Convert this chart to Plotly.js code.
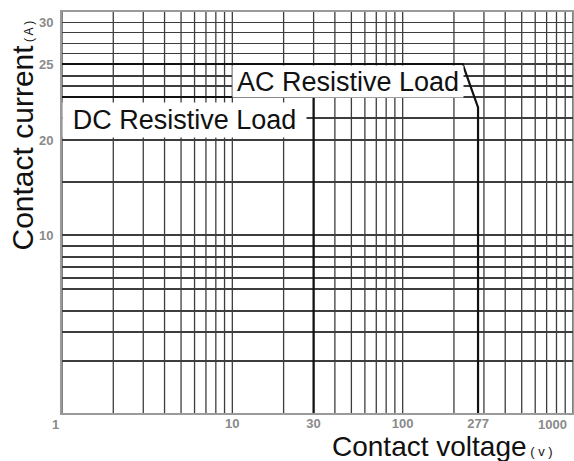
<!DOCTYPE html>
<html>
<head>
<meta charset="utf-8">
<script src="https://cdn.plot.ly/plotly-3.0.1.min.js"></script>
<style>html,body{margin:0;padding:0;background:#fff;}#chart{width:574px;height:461px;}</style>
</head>
<body>
<div id="chart"></div>
<script>
// ---- data ----
const xGridVolts = [1,2,3,4,5,6,7,8,9,10,20,30,40,50,60,70,80,90,100,200,300,400,500,600,700,800,900,1000];
const xTickVolts = [10, 30, 100, 277];
const xTickText  = ['10', '30', '100', '277'];

const yGridAmps = [1,2,3,4,5,6,7,8,9,10,15,20,21,22,23,24,25,26.25,27.5,28.75,30,31.25];
const yTickAmps = [10, 20, 25, 30];
const yTickText = ['10', '20', '25', '30'];

// AC resistive load limit curve
const acVolts = [1, 225, 277, 277];
const acAmps  = [25, 25, 21.5, 1];
// DC resistive load limit curve
const dcVolts = [1, 30, 30];
const dcAmps  = [22, 22, 1];

// The current axis of the original chart is non-uniform; its scale is given by these knots
const yScaleAmps = [1,2,3,4,5,6,7,8,9,10,15,20,21,22,23,24,25,31.25];
const yScaleFrac = [0,.1297,.2020,.2544,.3092,.3367,.3641,.3890,.4165,.4439,.5761,.6808,.7357,.7880,.8155,.8404,.8703,1];

function yScale(a) {
  for (let i = 0; i < yScaleAmps.length - 1; i++) {
    const a0 = yScaleAmps[i], a1 = yScaleAmps[i + 1];
    if (a >= a0 && a <= a1) {
      return yScaleFrac[i] + (a - a0) / (a1 - a0) * (yScaleFrac[i + 1] - yScaleFrac[i]);
    }
  }
  return a < yScaleAmps[0] ? 0 : 1;
}

function mergeTicks(gridVals, labelVals, labelText) {
  const vals = Array.from(new Set(gridVals.concat(labelVals))).sort((a, b) => a - b);
  const text = vals.map(v => { const i = labelVals.indexOf(v); return i >= 0 ? labelText[i] : ''; });
  return {vals, text};
}
const yT = mergeTicks(yGridAmps, yTickAmps, yTickText);

const gridColor = '#3d3d3d';
const tickFont = {family: 'Liberation Sans, Arial, sans-serif', size: 13, color: '#8a8a8a', weight: 'bold'};
const textFont = {family: 'Liberation Sans, Arial, sans-serif', color: '#111'};

const traces = [
  {x: acVolts, y: acAmps.map(yScale), mode: 'lines', name: 'AC Resistive Load',
   line: {color: '#111', width: 2.2}, hoverinfo: 'skip'},
  {x: dcVolts, y: dcAmps.map(yScale), mode: 'lines', name: 'DC Resistive Load',
   line: {color: '#111', width: 2.2}, hoverinfo: 'skip'}
];

// vertical grid lines on the logarithmic voltage axis
const vGrid = xGridVolts.map(v => ({
  type: 'line', xref: 'x', yref: 'paper', layer: 'below',
  x0: v, x1: v, y0: 0, y1: 1,
  line: {color: gridColor, width: 1.3}
}));

const layout = {
  width: 574, height: 461,
  margin: {l: 62, r: 1, t: 12, b: 48},
  paper_bgcolor: '#fff', plot_bgcolor: '#fff',
  showlegend: false,
  xaxis: {
    type: 'log', range: [0, 3],
    tickmode: 'array', tickvals: xTickVolts, ticktext: xTickText,
    ticks: '', tickfont: tickFont, ticklabelstandoff: -3,
    showgrid: false,
    showline: true, mirror: true, linecolor: '#9a9a9a', linewidth: 2,
    zeroline: false, fixedrange: true
  },
  yaxis: {
    type: 'linear', range: [0, 1],
    tickmode: 'array', tickvals: yT.vals.map(yScale), ticktext: yT.text,
    ticks: '', tickfont: tickFont, ticklabelstandoff: 4,
    showgrid: true, gridcolor: gridColor, gridwidth: 1.3,
    showline: true, mirror: true, linecolor: '#9a9a9a', linewidth: 2,
    zeroline: false, fixedrange: true
  },
  shapes: vGrid,
  annotations: [
    {text: 'AC Resistive Load', xref: 'paper', yref: 'paper',
     x: (232 - 62) / 511, y: (413 - 81) / 401, xanchor: 'left', yanchor: 'middle',
     width: 230, height: 31, align: 'center', valign: 'middle',
     bgcolor: '#fff', borderpad: 0, showarrow: false, font: Object.assign({size: 27}, textFont)},
    {text: 'DC Resistive Load', xref: 'paper', yref: 'paper',
     x: 0, y: (413 - 120) / 401, xanchor: 'left', yanchor: 'middle',
     width: 243, height: 34, align: 'center', valign: 'middle',
     bgcolor: '#fff', borderpad: 0, showarrow: false, font: Object.assign({size: 27}, textFont)},
    {text: 'Contact current<span style="font-size:12px"> ( A )</span>', xref: 'paper', yref: 'paper',
     x: (21.5 - 62) / 511, y: (413 - 136) / 401, xanchor: 'center', yanchor: 'middle',
     textangle: -90, showarrow: false, font: Object.assign({size: 30}, textFont)},
    {text: 'Contact voltage<span style="font-size:13px"> ( v )</span>', xref: 'paper', yref: 'paper',
     x: (330 - 62) / 511, y: (413 - 446) / 401, xanchor: 'left', yanchor: 'middle',
     showarrow: false, font: Object.assign({size: 28}, textFont)},
    {text: '1', xref: 'paper', yref: 'paper',
     x: (55 - 62) / 511, y: (413 - 424) / 401, xanchor: 'center', yanchor: 'middle',
     showarrow: false, font: tickFont},
    {text: '1000', xref: 'paper', yref: 'paper',
     x: (569 - 62) / 511, y: (413 - 424) / 401, xanchor: 'right', yanchor: 'middle',
     showarrow: false, font: tickFont}
  ]
};

Plotly.newPlot('chart', traces, layout, {displayModeBar: false, staticPlot: true});
</script>
</body>
</html>
